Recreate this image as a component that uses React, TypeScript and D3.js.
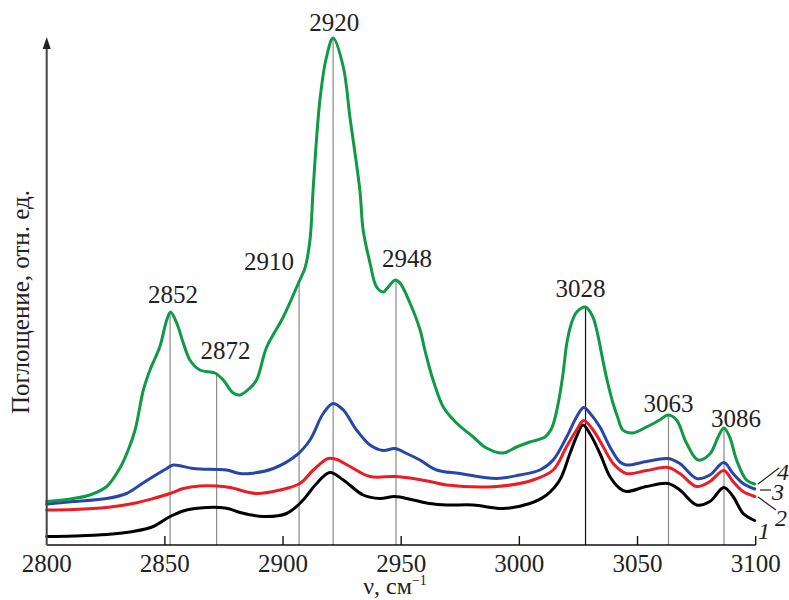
import React from "react";
import * as d3 from "d3";

// wavenumber (cm^-1), absorbance (rel. units)
const curve1: [number, number][] = [
  [2800, 1.7], [2811.3, 1.8], [2825.4, 2.1], [2836.6, 2.7], [2845.1, 3.7], [2852.2, 5.7],
  [2859.2, 7.0], [2867.7, 7.5], [2873.3, 7.5], [2877.5, 7.2], [2881.8, 6.5], [2891.6, 5.7],
  [2901.5, 6.3], [2908.5, 9.0], [2914.2, 12.3], [2919.8, 14.5], [2925.5, 13.0], [2933.9, 10.0],
  [2941.0, 9.3], [2947.3, 9.7], [2955.1, 9.0], [2962.1, 8.3], [2969.2, 8.0], [2980.5, 8.0],
  [2993.1, 7.3], [3004.4, 8.3], [3011.5, 10.0], [3017.1, 13.0], [3021.4, 18.3], [3024.2, 21.7],
  [3026.9, 24.0], [3029.8, 22.3], [3034.1, 18.3], [3038.3, 13.7], [3042.5, 11.3], [3045.3, 10.7],
  [3053.8, 11.7], [3062.9, 12.3], [3067.9, 11.0], [3075.0, 8.0], [3080.6, 8.7], [3086.5, 11.5],
  [3090.4, 9.7], [3094.7, 6.3], [3099.6, 4.9],
];

const curve2: [number, number][] = [
  [2800, 7.0], [2811.3, 7.1], [2825.4, 7.5], [2836.6, 8.3], [2845.1, 9.3], [2852.2, 10.3],
  [2857.8, 11.3], [2864.8, 11.8], [2871.9, 11.8], [2877.5, 11.5], [2888.8, 10.3], [2898.7, 11.0],
  [2907.1, 12.3], [2912.8, 15.0], [2919.1, 17.3], [2922.7, 17.1], [2928.3, 15.7], [2936.8, 13.7],
  [2947.3, 13.7], [2955.1, 13.3], [2962.1, 12.7], [2969.2, 12.0], [2990.4, 11.7], [3005.8, 13.0],
  [3014.3, 15.0], [3020.0, 19.7], [3024.2, 23.0], [3027.2, 24.9], [3031.2, 23.0], [3035.4, 19.7],
  [3039.7, 16.3], [3045.3, 14.3], [3053.8, 14.9], [3062.9, 15.5], [3067.9, 14.3], [3075.0, 11.7],
  [3080.6, 12.7], [3086.5, 14.9], [3090.4, 12.7], [3094.7, 10.7], [3099.6, 9.7],
];

const curve3: [number, number][] = [
  [2800, 8.2], [2811.3, 8.7], [2825.4, 9.3], [2833.8, 10.3], [2839.5, 12.0], [2845.1, 13.7],
  [2850.8, 15.3], [2853.6, 16.0], [2862.0, 15.3], [2871.9, 15.1], [2876.1, 15.0], [2881.8, 14.3],
  [2886.0, 14.3], [2895.9, 15.3], [2905.8, 18.0], [2911.4, 21.0], [2917.0, 26.3], [2921.2, 28.3],
  [2925.5, 27.0], [2931.1, 23.0], [2936.8, 20.0], [2942.4, 18.9], [2947.3, 19.3], [2952.3, 18.3],
  [2957.9, 17.0], [2965.0, 15.0], [2974.8, 14.3], [2990.4, 13.3], [3000.2, 14.0], [3008.7, 15.0],
  [3014.3, 17.0], [3020.0, 21.6], [3024.2, 25.6], [3027.2, 27.5], [3029.8, 26.4], [3034.1, 23.6],
  [3038.3, 19.6], [3042.5, 16.6], [3045.3, 16.0], [3053.8, 16.7], [3062.9, 17.3], [3067.9, 16.3],
  [3075.0, 13.3], [3080.6, 14.0], [3086.5, 16.5], [3090.4, 14.3], [3094.7, 12.3], [3099.6, 11.2],
];

const curve4: [number, number][] = [
  [2800, 8.7], [2811.3, 9.3], [2818.3, 10.0], [2825.4, 11.7], [2831.0, 15.4], [2834.5, 19.0],
  [2837.4, 23.0], [2840.9, 31.0], [2843.7, 35.0], [2847.9, 39.7], [2850.8, 45.0], [2852.4, 46.6],
  [2855.0, 44.4], [2857.8, 40.4], [2860.6, 37.0], [2864.8, 35.0], [2871.2, 34.4], [2874.7, 33.0],
  [2878.9, 30.4], [2881.8, 30.0], [2886.0, 31.4], [2888.8, 33.0], [2893.1, 39.6], [2900.1, 45.6],
  [2905.8, 51.6], [2907.1, 53.0], [2909.3, 55.4], [2911.4, 61.0], [2912.8, 71.6], [2915.6, 89.0],
  [2918.4, 97.6], [2921.2, 101.4], [2925.5, 95.6], [2928.3, 85.6], [2932.5, 71.0], [2933.9, 63.0],
  [2936.8, 56.4], [2939.6, 51.6], [2942.4, 50.6], [2944.5, 51.6], [2947.5, 53.0], [2949.5, 52.4],
  [2953.7, 48.4], [2958.0, 43.0], [2960.0, 39.0], [2963.5, 33.0], [2967.8, 27.6], [2973.4, 24.4],
  [2980.5, 21.6], [2986.1, 19.4], [2993.1, 18.4], [2998.8, 19.6], [3004.4, 20.6], [3010.8, 21.6],
  [3013.7, 23.4], [3016.3, 28.0], [3018.4, 34.0], [3020.1, 40.4], [3022.2, 44.6], [3024.3, 46.6],
  [3028.0, 47.6], [3031.1, 45.6], [3033.2, 42.0], [3035.3, 37.0], [3037.4, 32.4], [3039.6, 28.4],
  [3041.7, 25.4], [3043.8, 23.0], [3048.0, 22.4], [3053.8, 23.6], [3059.4, 25.0], [3062.9, 26.0],
  [3066.5, 25.0], [3070.7, 20.4], [3075.6, 17.0], [3080.6, 18.2], [3084.1, 21.6], [3086.5, 23.4],
  [3089.0, 21.6], [3091.9, 17.0], [3096.1, 13.0], [3099.6, 12.2],
];

const peakPositions = [2852.2, 2871.9, 2906.8, 2921.2, 2947.8, 3028.0, 3063.1, 3086.6];
const peakLabels = ["2852", "2872", "2910", "2920", "2948", "3028", "3063", "3086"];
const xTicks = [2800, 2850, 2900, 2950, 3000, 3050, 3100];
const curveNames = ["1", "2", "3", "4"];

// layout (not data)
const labelOffsets: [number, number][] = [
  [3, -10], [9, -15], [-30, -12], [1, -7], [11, -13], [-5, -10], [0, -3], [12, -1],
];
const curveColors = ["#000000", "#ec1c24", "#2747a8", "#0f9a45"];

const W = 789;
const H = 600;
const X0 = 46.7;
const X1 = 755.7;
const Y0 = 545;

const FONT = "'Liberation Serif', 'Times New Roman', serif";

function interp(series: [number, number][], v: number): number {
  const i = d3.bisector((d: [number, number]) => d[0]).left(series, v);
  if (i <= 0) return series[0][1];
  if (i >= series.length) return series[series.length - 1][1];
  const [xa, ya] = series[i - 1];
  const [xb, yb] = series[i];
  return ya + ((yb - ya) * (v - xa)) / (xb - xa);
}

export default function App() {
  const x = d3.scaleLinear().domain([2800, 3100]).range([X0, X1]);
  const y = d3.scaleLinear().domain([0, 100]).range([Y0, 45]);
  const line = d3
    .line<[number, number]>()
    .x((d) => x(d[0]))
    .y((d) => y(d[1]))
    .curve(d3.curveCatmullRom.alpha(0.5));

  const curves = [curve1, curve2, curve3, curve4];

  return (
    <svg
      width={W}
      height={H}
      style={{ position: "absolute", left: 0, top: 0, background: "#fff" }}
      fontFamily={FONT}
    >
      {/* peak marker lines */}
      {peakPositions.map((p, i) => {
        const top = y(interp(curve4, p));
        return (
          <line
            key={"pl" + i}
            x1={x(p)}
            x2={x(p)}
            y1={Y0}
            y2={top}
            stroke={peakLabels[i] === "3028" ? "#111" : "#8a8a8a"}
            strokeWidth={1.2}
          />
        );
      })}

      {/* curves */}
      {curves.map((c, i) => (
        <path
          key={"c" + i}
          d={line(c) || ""}
          fill="none"
          stroke={curveColors[i]}
          strokeWidth={3}
          strokeLinejoin="round"
          strokeLinecap="round"
        />
      ))}

      {/* peak labels */}
      {peakPositions.map((p, i) => {
        const top = y(interp(curve4, p));
        return (
          <text
            key={"lab" + i}
            x={x(p) + labelOffsets[i][0]}
            y={top + labelOffsets[i][1]}
            textAnchor="middle"
            fontSize={25}
            fill="#222"
          >
            {peakLabels[i]}
          </text>
        );
      })}

      {/* x axis */}
      <line x1={X0} x2={X1} y1={Y0} y2={Y0} stroke="#111" strokeWidth={1.6} />
      {xTicks.map((t) => (
        <g key={"t" + t}>
          {t !== 2800 && (
            <line x1={x(t)} x2={x(t)} y1={Y0} y2={Y0 - 9} stroke="#111" strokeWidth={1.4} />
          )}
          <text x={x(t)} y={572} textAnchor="middle" fontSize={25} fill="#222">
            {t}
          </text>
        </g>
      ))}
      <text x={395} y={594} textAnchor="middle" fontSize={24} fill="#222">
        ν, см
        <tspan dy={-9} fontSize={14}>−1</tspan>
      </text>

      {/* y axis */}
      <line x1={X0} x2={X0} y1={Y0} y2={46} stroke="#444" strokeWidth={2} />
      <path d={`M${X0},37 L${X0 - 4},49 L${X0 + 4},49 Z`} fill="#222" />
      <text
        transform={`translate(29,${302}) rotate(-90)`}
        textAnchor="middle"
        fontSize={25}
        fill="#222"
      >
        Поглощение, отн. ед.
      </text>

      {/* curve number labels */}
      <line x1={758} y1={484} x2={779} y2={468} stroke="#222" strokeWidth={1.2} />
      <line x1={760} y1={490} x2={771} y2={490} stroke="#222" strokeWidth={1.2} />
      <line x1={758} y1={497} x2={776} y2={510} stroke="#222" strokeWidth={1.2} />
      <text x={777} y={480} fontSize={24} fontStyle="italic" fill="#222">{curveNames[3]}</text>
      <text x={772} y={500} fontSize={24} fontStyle="italic" fill="#222">{curveNames[2]}</text>
      <text x={775} y={526} fontSize={24} fontStyle="italic" fill="#222">{curveNames[1]}</text>
      <text x={758} y={539} fontSize={24} fontStyle="italic" fill="#222">{curveNames[0]}</text>
    </svg>
  );
}
